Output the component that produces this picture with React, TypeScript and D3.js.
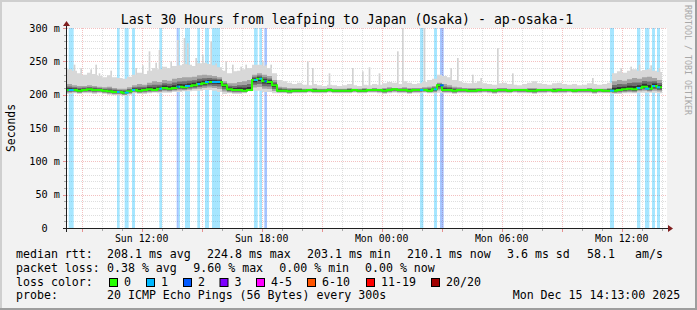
import React, { useEffect } from "react";
import * as d3 from "d3";

// ---------- data ----------
const T0 = Date.UTC(2025, 11, 14, 8, 16); // left edge of the plot (UTC used as local)
const SPAN_MIN = 1800; // 30 hours
const BIN_MIN = 15;
const STEP_MIN = 5;

const medianMs = [
  207, 207, 206, 207, 208, 207, 207, 206,
  205, 204, 204, 203, 205,
  207, 206, 207, 208, 207,
  209, 210, 209,
  210, 212, 211,
  213, 214, 216,
  217, 219, 219,
  219, 214, 208,
  207, 207, 206, 207, 222,
  224, 220, 219, 214,
  206, 206, 205, 206, 206, 206, 207, 206, 206, 206, 207, 206, 206, 206, 206, 207, 206, 206, 207,
  207, 207, 206, 207, 208, 207, 207, 206, 207, 207, 207, 206, 208, 214, 207, 207, 206, 207, 207, 206,
  206, 207, 207, 207, 206, 207, 207, 206, 207, 207, 207, 206, 206, 207, 207, 207, 206, 207, 207, 207, 206, 207, 207, 207, 206, 207, 206, 206,
  206, 207, 208, 209, 208, 210, 212, 209, 213, 211,
];

const smokeTopMs = [
  238, 236, 232, 230, 233, 231, 228, 226, 229, 226,
  225, 224, 227, 230, 233, 231, 236, 240, 238, 242,
  240, 243, 244, 246, 245, 243, 247, 248, 246, 244,
  241, 236, 232, 235, 236, 238, 240, 245, 245, 243, 240, 232,
  222, 220, 218, 216, 218, 215, 214, 216, 214, 213, 215, 214, 213, 214, 216, 214, 213, 215, 214,
  216, 215, 217, 219, 218, 216, 220, 218, 216, 217, 219, 222, 224, 230, 228, 226, 222, 220, 218, 217,
  218, 220, 217, 216, 215, 217, 218, 216, 215, 214, 216, 218, 220, 217, 216, 215, 217, 218, 216, 215, 216, 214, 215, 217, 216, 215, 216, 218,
  232, 235, 233, 236, 238, 236, 237, 238, 236, 234,
];

const smokeUpMs = [
  216, 214, 213, 213, 214, 213, 212, 211, 212, 210,
  209, 209, 211, 214, 216, 215, 218, 220, 219, 222,
  221, 224, 225, 226, 226, 227, 229, 230, 229, 228,
  226, 220, 217, 217, 219, 220, 222, 230, 232, 230, 228, 222,
  212, 211, 210, 210, 210, 209, 209, 210, 209, 209, 210, 209, 209, 209, 210, 209, 209, 210, 209,
  210, 209, 210, 211, 210, 210, 211, 210, 210, 210, 211, 212, 213, 218, 216, 214, 212, 211, 210, 210,
  210, 210, 209, 209, 209, 210, 210, 209, 209, 209, 209, 210, 210, 209, 209, 209, 210, 210, 209, 209, 209, 209, 209, 210, 209, 209, 209, 210,
  220, 222, 221, 223, 225, 224, 226, 227, 225, 222,
];

const smokeLowMs = [
  201, 202, 201, 202, 202, 201, 202, 201, 200, 199,
  199, 198, 200, 202, 201, 201, 202, 203, 202, 203,
  203, 204, 204, 205, 205, 206, 206, 207, 207, 206,
  204, 201, 202, 201, 201, 202, 205, 206, 206, 204, 204, 202,
  202, 202, 201, 202, 202, 202, 203, 202, 202, 202, 203, 202, 202, 202, 202, 203, 202, 202, 203,
  203, 202, 201, 202, 203, 202, 202, 201, 202, 202, 203, 202, 202, 203, 202, 202, 201, 202, 202, 202,
  202, 202, 203, 202, 201, 202, 202, 202, 203, 202, 202, 202, 201, 202, 202, 203, 202, 202, 202, 203, 202, 202, 202, 202, 201, 202, 202, 202,
  201, 201, 202, 202, 202, 203, 203, 203, 203, 202,
];

// isolated high pings (5-minute step index, ms)
const spikeStep = [
  4, 8, 14, 17, 19, 26, 41, 45, 49, 53, 55, 62, 66, 70, 72, 77, 81, 86, 89, 95, 99, 104, 107, 117, 119, 122,
  144, 147, 157, 171, 177, 181, 187, 198, 201, 214, 230, 234, 243, 248, 258, 267, 315,
  332, 338, 343, 350, 355,
];
const spikeMs = [
  245, 240, 238, 245, 232, 236, 240, 244, 265, 248, 267, 250, 282, 285, 277, 255, 260, 280, 247, 250, 245, 242, 245, 250, 245, 245,
  250, 240, 232, 240, 235, 241, 232, 265, 310, 310, 240, 255, 230, 225, 270, 232, 225,
  240, 242, 245, 244, 240,
];

// packet loss periods (minutes from start) and lost pings
const lossStartMin = [5, 150, 173, 195, 277, 329, 335, 354, 391, 414, 435, 561, 577, 592, 1059, 1101, 1119, 1629, 1710, 1734, 1755, 1770];
const lossEndMin = [20, 158, 185, 204, 285, 335, 339, 369, 399, 426, 459, 572, 585, 600, 1069, 1110, 1130, 1641, 1720, 1747, 1764, 1779];
const lossCount = [1, 1, 1, 1, 1, 2, 1, 1, 1, 1, 1, 1, 1, 2, 1, 1, 2, 1, 1, 1, 1, 1];

const yTickValues = [0, 50, 100, 150, 200, 250, 300];
const yTickLabels = ["0  ", "50 m", "100 m", "150 m", "200 m", "250 m", "300 m"];
const xTickLabels = ["Sun 12:00", "Sun 18:00", "Mon 00:00", "Mon 06:00", "Mon 12:00"];

const lossLegendLabels = ["0", "1", "2", "3", "4-5", "6-10", "11-19", "20/20"];
const lossLegendColors = ["#26ff00", "#00b8ff", "#0059ff", "#7e00ff", "#ff00ff", "#ff5500", "#ff0000", "#a10000"];

const titleText = "Last 30 Hours from leafping to Japan (Osaka) - ap-osaka-1";
const rttStats = ["208.1 ms avg", "224.8 ms max", "203.1 ms min", "210.1 ms now", "3.6 ms sd", "58.1", "am/s"];
const lossStats = ["0.38 % avg", "9.60 % max", "0.00 % min", "0.00 % now"];
const probeText = "20 ICMP Echo Pings (56 Bytes) every 300s";
const dateText = "Mon Dec 15 14:13:00 2025";

// ---------- layout ----------
const W = 697, H = 310;
const PL = 67, PR = 667, PT = 28, PB = 228;
const FONT = "'DejaVu Sans Mono', monospace";
const rttX = [107, 207, 307, 407, 507, 587, 635];
const lossX = [107, 193.3, 279.3, 365];

export default function App() {
  useEffect(() => {
    document.body.style.margin = "0";
  }, []);

  const tAt = (m: number) => new Date(T0 + m * 60000);
  const x = d3.scaleUtc().domain([tAt(0), tAt(SPAN_MIN)]).range([PL, PR]);
  const y = d3.scaleLinear().domain([0, 300]).range([PB, PT]);

  const n = medianMs.length;
  const bins = medianMs.map((m, i) => ({
    t: i * BIN_MIN,
    m,
    up: smokeUpMs[i] ?? m,
    top: smokeTopMs[i] ?? m,
    low: smokeLowMs[i] ?? m,
  }));
  const pts = [...bins, { ...bins[n - 1], t: n * BIN_MIN }];

  const mkArea = (lo: (d: any) => number, hi: (d: any) => number) =>
    d3.area<any>().x((d) => x(tAt(d.t))).y0((d) => y(lo(d))).y1((d) => y(hi(d))).curve(d3.curveStepAfter)(pts) || "";

  const layers = [
    { lo: (d: any) => d.low, hi: (d: any) => d.top, fill: "#d8d8d8" },
    { lo: (d: any) => d.m - (d.m - d.low) * 0.7, hi: (d: any) => d.up, fill: "#a4a4a4" },
    { lo: (d: any) => d.m - (d.m - d.low) * 0.45, hi: (d: any) => d.m + (d.up - d.m) * 0.6, fill: "#6e6e6e" },
    { lo: (d: any) => d.m - (d.m - d.low) * 0.2, hi: (d: any) => d.m + (d.up - d.m) * 0.3, fill: "#333333" },
  ];

  const medianPath =
    d3.line<any>().x((d) => x(tAt(d.t))).y((d) => y(d.m)).curve(d3.curveStepAfter)(pts) || "";

  const hourTicks = x.ticks(d3.utcHour.every(1) as any);
  const labelTicks = x.ticks(d3.utcHour.every(6) as any);
  const minorY = d3.range(0, 301, 10).filter((v) => v % 50 !== 0);
  const snap = (v: number) => Math.round(v) + 0.5;

  const lossColor = (c: number) => lossLegendColors[Math.min(c, lossLegendColors.length - 1)];

  const boxX = [109, 146, 183, 219.5, 256, 307, 366, 431];

  return (
    <svg
      width={W}
      height={H}
      viewBox={`0 0 ${W} ${H}`}
      style={{ position: "absolute", left: 0, top: 0, display: "block" }}
      fontFamily={FONT}
    >
      <defs>
        <clipPath id="plotClip">
          <rect x={PL} y={PT} width={PR - PL} height={PB - PT} />
        </clipPath>
      </defs>
      {/* background + 3D border */}
      <rect x={0} y={0} width={W} height={H} fill="#f2f2f2" />
      <path d={`M0,${H} V0 H${W}`} fill="none" stroke="#cfcfcf" strokeWidth={4} />
      <path d={`M${W},0 V${H} H0`} fill="none" stroke="#9e9e9e" strokeWidth={4} />
      <rect x={PL} y={PT} width={PR - PL} height={PB - PT} fill="#ffffff" />

      {/* grid */}
      <g>
        {minorY.map((v) => (
          <line key={"my" + v} x1={PL} x2={PR} y1={snap(y(v))} y2={snap(y(v))}
            stroke="rgba(143,143,143,0.75)" strokeWidth={0.4} strokeDasharray="1,1" />
        ))}
        {hourTicks.filter((t) => t.getUTCHours() % 3 !== 0).map((t) => (
          <line key={"mx" + +t} x1={snap(x(t))} x2={snap(x(t))} y1={PT} y2={PB}
            stroke="rgba(143,143,143,0.75)" strokeWidth={0.4} strokeDasharray="1,1" />
        ))}
        {yTickValues.map((v) => (
          <line key={"My" + v} x1={PL} x2={PR} y1={snap(y(v))} y2={snap(y(v))}
            stroke="rgba(222,79,79,0.6)" strokeWidth={0.6} strokeDasharray="1,1" />
        ))}
        {hourTicks.filter((t) => t.getUTCHours() % 3 === 0).map((t) => (
          <line key={"Mx" + +t} x1={snap(x(t))} x2={snap(x(t))} y1={PT} y2={PB}
            stroke="rgba(222,79,79,0.6)" strokeWidth={0.6} strokeDasharray="1,1" />
        ))}
      </g>

      <g clipPath="url(#plotClip)">
        {/* loss bars */}
        {lossStartMin.map((s, i) => (
          <rect key={"lb" + i} x={x(tAt(s))} width={x(tAt(lossEndMin[i])) - x(tAt(s))} y={PT} height={PB - PT}
            fill={lossColor(lossCount[i])} fillOpacity={0.35} />
        ))}
        {/* spikes */}
        {spikeStep.map((s, i) => {
          const b = Math.min(n - 1, Math.floor((s * STEP_MIN) / BIN_MIN));
          const x0 = x(tAt(s * STEP_MIN));
          const x1 = x(tAt((s + 1) * STEP_MIN));
          return (
            <rect key={"sp" + i} x={x0} width={x1 - x0} y={y(spikeMs[i])} height={y(medianMs[b]) - y(spikeMs[i])}
              fill="#d2d2d2" />
          );
        })}
        {/* smoke */}
        {layers.map((l, i) => (
          <path key={"sm" + i} d={mkArea(l.lo, l.hi)} fill={l.fill} />
        ))}
        {/* median */}
        <path d={medianPath} fill="none" stroke={lossLegendColors[0]} strokeWidth={2} />
        {lossStartMin.map((s, i) => {
          const mid = (s + lossEndMin[i]) / 2;
          const b = Math.min(n - 1, Math.floor(mid / BIN_MIN));
          return (
            <line key={"lm" + i} x1={x(tAt(s))} x2={x(tAt(lossEndMin[i]))} y1={y(medianMs[b])} y2={y(medianMs[b])}
              stroke={lossColor(lossCount[i])} strokeWidth={2} />
          );
        })}
      </g>

      {/* ticks */}
      {minorY.map((v) => (
        <line key={"ty" + v} x1={64} x2={67} y1={snap(y(v))} y2={snap(y(v))} stroke="rgba(143,143,143,0.75)" strokeWidth={1} />
      ))}
      {yTickValues.map((v) => (
        <line key={"tY" + v} x1={63} x2={67} y1={snap(y(v))} y2={snap(y(v))} stroke="rgba(222,79,79,0.6)" strokeWidth={1} />
      ))}
      {hourTicks.map((t) => (
        <line key={"tx" + +t} x1={snap(x(t))} x2={snap(x(t))} y1={PB} y2={t.getUTCHours() % 3 === 0 ? PB + 4 : PB + 3}
          stroke={t.getUTCHours() % 3 === 0 ? "rgba(222,79,79,0.6)" : "rgba(143,143,143,0.75)"} strokeWidth={1} />
      ))}

      {/* axes */}
      <line x1={63} x2={PR + 1} y1={PB + 0.5} y2={PB + 0.5} stroke="#1f1f1f" strokeWidth={1} />
      <line x1={PL - 0.5} x2={PL - 0.5} y1={PB + 4} y2={PT - 3} stroke="#1f1f1f" strokeWidth={1} />
      <path d={`M${PR + 1},${PB - 3} L${PR + 6},${PB + 0.5} L${PR + 1},${PB + 4} Z`} fill="#801f1f" />
      <path d={`M${PL - 4},${PT - 2} L${PL - 0.5},${PT - 7} L${PL + 3},${PT - 2} Z`} fill="#801f1f" />

      {/* y labels */}
      {yTickValues.map((v, i) => (
        <text key={"yl" + v} x={60} y={y(v) + 3.5} textAnchor="end" fontSize={10.2} fill="#000" style={{ whiteSpace: "pre" }}>
          {yTickLabels[i]}
        </text>
      ))}
      {/* x labels */}
      {labelTicks.map((t, i) => (
        <text key={"xl" + i} x={x(t)} y={241.5} textAnchor="middle" fontSize={9.9} fill="#000">
          {xTickLabels[i] ?? d3.utcFormat("%a %H:%M")(t)}
        </text>
      ))}

      {/* title & side texts */}
      <text x={347} y={24} textAnchor="middle" fontSize={13.2} fill="#000">{titleText}</text>
      <text transform="translate(14.5,128) rotate(-90)" textAnchor="middle" fontSize={11.4} fill="#000">Seconds</text>
      <text transform="translate(685,5) rotate(90)" fontSize={8.3} fill="#a8a8a8">RRDTOOL / TOBI OETIKER</text>

      {/* legend */}
      <g fontSize={11.6} fill="#000" style={{ whiteSpace: "pre" }}>
        <text x={16} y={258}>median rtt:</text>
        {rttStats.map((s, i) => (
          <text key={"rs" + i} x={rttX[i]} y={258}>{s}</text>
        ))}
        <text x={16} y={271.8}>packet loss:</text>
        {lossStats.map((s, i) => (
          <text key={"ls" + i} x={lossX[i]} y={271.8}>{s}</text>
        ))}
        <text x={16} y={285.6}>loss color:</text>
        {lossLegendLabels.map((s, i) => (
          <g key={"lc" + i}>
            <rect x={boxX[i] + 0.5} y={278.5} width={8} height={8} fill={lossLegendColors[i]} stroke="#000" strokeWidth={1} />
            <text x={boxX[i] + 15} y={285.6}>{s}</text>
          </g>
        ))}
        <text x={16} y={299.4}>probe:</text>
        <text x={107} y={299.4}>{probeText}</text>
        <text x={512.7} y={299.4}>{dateText}</text>
      </g>
    </svg>
  );
}
